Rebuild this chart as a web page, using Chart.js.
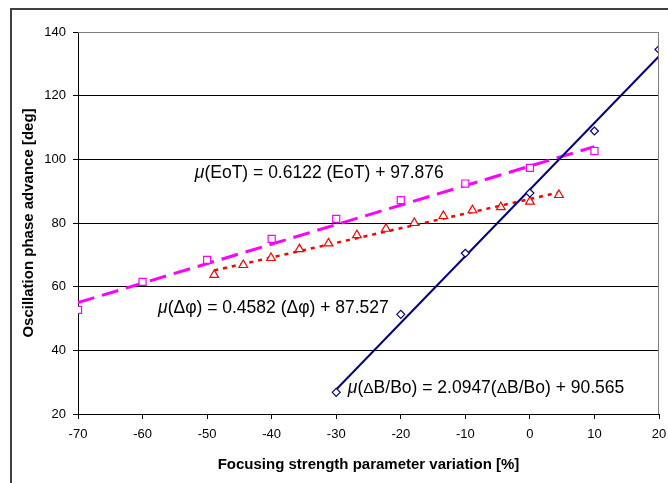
<!DOCTYPE html>
<html lang="en">
<head>
  <meta charset="UTF-8" />
  <title>Oscillation phase advance vs focusing strength</title>
  <script src="https://cdn.jsdelivr.net/npm/chart.js"></script>
  <style>
    body { margin: 0; background: #fff; }
    #wrap { width: 668px; height: 483px; }
  </style>
</head>
<body>
  <div id="wrap"><canvas id="phaseChart" width="668" height="483"></canvas></div>

  <script>
    const eotX = [-70, -60, -50, -40, -30, -20, -10, 0, 10];
    const eotY = [52.7, 61.5, 68.4, 75.0, 81.3, 87.2, 92.4, 97.3, 102.6];

    const phiX = [-48.9, -44.4, -40.1, -35.7, -31.2, -26.8, -22.3, -17.9, -13.4, -8.9, -4.5, 0, 4.5];
    const phiY = [63.7, 66.8, 69.0, 71.8, 73.6, 76.2, 78.2, 80.0, 82.2, 84.0, 85.0, 86.7, 88.8];

    const bX = [-30, -20, -10, 0, 10, 20];
    const bY = [26.8, 51.3, 70.5, 89.4, 108.9, 134.5];

    // trend line ends as drawn on the plot
    const eotFitX = [-70, 10];
    const eotFitY = [55.0, 104.0];
    const phiFitX = [-48.9, 4.5];
    const phiFitY = [65.1, 89.6];
    const bFitX = [-30, 20];
    const bFitY = [27.7, 132.4];

    const xTicks = [-70, -60, -50, -40, -30, -20, -10, 0, 10, 20];
    const yTicks = [20, 40, 60, 80, 100, 120, 140];

    const eqTexts = [
      "μ(EoT) = 0.6122 (EoT) + 97.876",
      "μ(Δφ) = 0.4582 (Δφ) + 87.527",
      "μ(ΔB/Bo) = 2.0947(ΔB/Bo) + 90.565"
    ];

    const pts = (xs, ys) => xs.map((v, i) => ({ x: v, y: ys[i] }));

    const FONT = "'Liberation Sans', Arial, sans-serif";

    // outer frame + grey top/right border of the plot area
    const frame = {
      id: "frame",
      beforeDraw(chart) {
        const ctx = chart.ctx;
        ctx.save();
        ctx.fillStyle = "#fff";
        ctx.fillRect(0, 0, chart.width, chart.height);
        ctx.strokeStyle = "#404040";
        ctx.lineWidth = 2;
        ctx.strokeRect(11, 9, 700, 520);
        ctx.restore();
      },
      afterDraw(chart) {
        const { ctx, chartArea: a } = chart;
        ctx.save();
        ctx.strokeStyle = "#808080";
        ctx.lineWidth = 1;
        ctx.beginPath();
        ctx.moveTo(a.left, a.top + 0.5);
        ctx.lineTo(a.right - 0.5, a.top + 0.5);
        ctx.lineTo(a.right - 0.5, a.bottom);
        ctx.stroke();
        ctx.restore();
      }
    };

    // fit equations written on the plot
    const fitLabels = {
      id: "fitLabels",
      afterDatasetsDraw(chart) {
        const { ctx, scales: { x, y } } = chart;
        const spots = [[-51.9, 95.7], [-57.6, 53.3], [-28.2, 28.2]];
        ctx.save();
        ctx.fillStyle = "#000";
        ctx.textBaseline = "middle";
        eqTexts.forEach((txt, i) => {
          let px = x.getPixelForValue(spots[i][0]);
          const py = y.getPixelForValue(spots[i][1]);
          for (const ch of txt) {
            let size = 17.5, style = "";
            if (ch === "μ") style = "italic ";
            if (ch === "Δ" && i === 2) size = 15.5;
            ctx.font = style + size + "px " + FONT;
            ctx.fillText(ch, px, py + (size < 17 ? 1 : 0));
            px += ctx.measureText(ch).width;
          }
        });
        ctx.restore();
      }
    };

    new Chart(document.getElementById("phaseChart"), {
      type: "scatter",
      data: {
        datasets: [
          {
            data: pts(bX, bY),
            pointStyle: "rectRot",
            pointRadius: 4,
            borderColor: "#000080",
            backgroundColor: "#fff",
            borderWidth: 1.2
          },
          {
            data: pts(eotX, eotY),
            pointStyle: "rect",
            pointRadius: 5,
            borderColor: "#ff00ff",
            backgroundColor: "#fff",
            borderWidth: 1.2
          },
          {
            data: pts(phiX, phiY),
            pointStyle: "triangle",
            pointRadius: 5,
            borderColor: "#ff0000",
            backgroundColor: "#fff",
            borderWidth: 1.2
          },
          {
            data: pts(bFitX, bFitY),
            showLine: true,
            pointRadius: 0,
            borderColor: "#000080",
            borderWidth: 2
          },
          {
            data: pts(eotFitX, eotFitY),
            showLine: true,
            pointRadius: 0,
            borderColor: "#ff00ff",
            borderWidth: 3,
            borderDash: [17, 8]
          },
          {
            data: pts(phiFitX, phiFitY),
            showLine: true,
            pointRadius: 0,
            borderColor: "#ff0000",
            borderWidth: 2.5,
            borderDash: [4, 5]
          }
        ]
      },
      options: {
        responsive: false,
        animation: false,
        layout: { padding: { left: 0, top: 32, right: 9, bottom: 0 } },
        plugins: {
          legend: { display: false },
          tooltip: { enabled: false }
        },
        scales: {
          x: {
            type: "linear",
            min: -70,
            max: 20,
            afterFit: s => { s.height = 69; s.paddingLeft = 0; s.paddingRight = 0; },
            afterBuildTicks: s => { s.ticks = xTicks.map(v => ({ value: v })); },
            ticks: { color: "#000", padding: 8, font: { family: FONT, size: 13 } },
            grid: { drawOnChartArea: false, color: "#000", tickLength: 5 },
            border: { color: "#000", width: 1 },
            title: {
              display: true,
              text: "Focusing strength parameter variation [%]",
              color: "#000",
              font: { family: FONT, size: 15, weight: "bold" },
              padding: { top: 0, bottom: 9 }
            }
          },
          y: {
            type: "linear",
            min: 20,
            max: 140,
            afterFit: s => { s.width = 78; },
            afterBuildTicks: s => { s.ticks = yTicks.map(v => ({ value: v })); },
            ticks: { color: "#000", padding: 7, font: { family: FONT, size: 13 } },
            grid: {
              color: c => (c.tick && c.tick.value === 140 ? "#808080" : "#000"),
              tickColor: "#000",
              tickLength: 5
            },
            border: { color: "#000", width: 1 },
            title: {
              display: true,
              text: "Oscillation phase advance [deg]",
              color: "#000",
              font: { family: FONT, size: 15, weight: "bold" },
              padding: { top: 20, bottom: 0 }
            }
          }
        }
      },
      plugins: [frame, fitLabels]
    });
  </script>
</body>
</html>
